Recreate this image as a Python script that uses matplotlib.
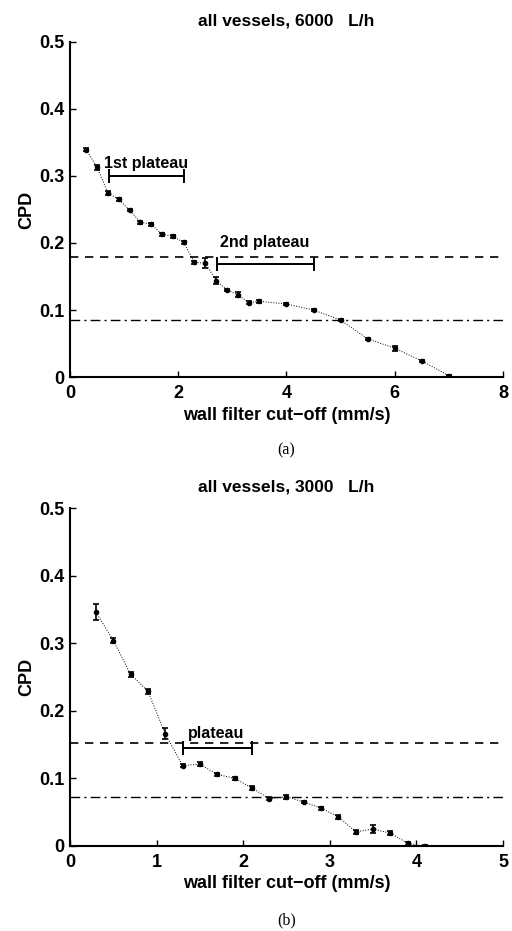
import matplotlib
matplotlib.use("Agg")
from matplotlib import pyplot as plt

plt.rcParams['font.family'] = ['Liberation Sans', 'DejaVu Sans']
plt.rcParams['font.weight'] = 'bold'

# --- dati pannello (a): 6000 L/h ---
cutoff_a = [0.3, 0.5, 0.7, 0.9, 1.1, 1.3, 1.5, 1.7, 1.9, 2.1, 2.3, 2.5, 2.7, 2.9, 3.1, 3.3, 3.5,
            4.0, 4.5, 5.0, 5.5, 6.0, 6.5, 7.0]
cpd_a = [0.339, 0.313, 0.275, 0.265, 0.249, 0.231, 0.228, 0.213, 0.210, 0.201, 0.171, 0.170,
         0.144, 0.130, 0.123, 0.111, 0.113, 0.109, 0.100, 0.085, 0.057, 0.043, 0.024, 0.002]
err_a = [0.002, 0.004, 0.003, 0.002, 0.002, 0.002, 0.002, 0.002, 0.002, 0.002, 0.002, 0.007,
         0.005, 0.002, 0.004, 0.002, 0.002, 0.002, 0.002, 0.002, 0.002, 0.004, 0.002, 0.001]
soglie_a = [0.179, 0.085]
plateau_a = [(0.72, 2.10, 0.300, '1st plateau', 1.41, 0.308),
             (2.71, 4.50, 0.168, '2nd plateau', 3.59, 0.190)]

# --- dati pannello (b): 3000 L/h ---
cutoff_b = [0.3, 0.5, 0.7, 0.9, 1.1, 1.3, 1.5, 1.7, 1.9, 2.1, 2.3, 2.5, 2.7, 2.9, 3.1, 3.3, 3.5,
            3.7, 3.9, 4.1]
cpd_b = [0.346, 0.304, 0.254, 0.229, 0.166, 0.119, 0.121, 0.106, 0.100, 0.086, 0.070, 0.073,
         0.065, 0.056, 0.043, 0.021, 0.025, 0.019, 0.004, 0.000]
err_b = [0.012, 0.003, 0.004, 0.004, 0.008, 0.002, 0.003, 0.002, 0.002, 0.003, 0.002, 0.003,
         0.002, 0.002, 0.003, 0.003, 0.006, 0.003, 0.002, 0.001]
soglie_b = [0.152, 0.073]
plateau_b = [(1.30, 2.10, 0.145, 'plateau', 1.69, 0.156)]


def pannello(ax, x, y, err, soglie, plateaux, xmax, xticks, titolo, lettera):
    # linea punteggiata + punti con barre d'errore
    ax.plot(x, y, linestyle=':', color='black', linewidth=0.7)
    ax.errorbar(x, y, yerr=err, fmt='o', color='black', markersize=3,
                elinewidth=1.2, capsize=2.5, capthick=1.2)
    # soglie orizzontali
    ax.axhline(soglie[0], color='black', linestyle=(0, (5, 4)), linewidth=1.2)
    ax.axhline(soglie[1], color='black', linestyle=(0, (7, 3, 1.5, 3)), linewidth=1.0)
    # intervalli di plateau
    for x0, x1, yp, testo, xt, yt in plateaux:
        ax.errorbar((x0 + x1) / 2, yp, xerr=(x1 - x0) / 2, fmt='none', color='black',
                    elinewidth=1.4, capsize=5, capthick=1.4)
        ax.text(xt, yt, testo, ha='center', va='bottom', fontsize=11.5, fontweight='bold')
    ax.set_xlim(0, xmax)
    ax.set_ylim(0, 0.5)
    ax.set_xticks(xticks)
    ax.set_xticklabels([str(t) for t in xticks])
    ax.set_yticks([0, 0.1, 0.2, 0.3, 0.4, 0.5])
    ax.set_yticklabels(['0', '0.1', '0.2', '0.3', '0.4', '0.5'])
    ax.tick_params(direction='in', length=4, width=1, labelsize=13)
    ax.tick_params(axis='x', pad=6)
    ax.tick_params(axis='y', pad=4)
    for s in ['top', 'right']:
        ax.spines[s].set_visible(False)
    for s in ['left', 'bottom']:
        ax.spines[s].set_linewidth(1.5)
    ax.set_title(titolo, fontsize=12.5, fontweight='bold', pad=12)
    ax.set_xlabel('wall filter cut\u2212off (mm/s)', fontsize=13, fontweight='bold', labelpad=3)
    ax.set_ylabel('CPD', fontsize=13, fontweight='bold', labelpad=3)
    ax.text(0.5, -0.22, lettera, transform=ax.transAxes, ha='center', va='center',
            fontsize=11.5, fontweight='normal', family='Liberation Serif')


fig = plt.figure(figsize=(5.12, 9.31), dpi=100)
ax1 = fig.add_axes([0.1367, 0.595, 0.8457, 0.360])
ax2 = fig.add_axes([0.1367, 0.0913, 0.8457, 0.363])

pannello(ax1, cutoff_a, cpd_a, err_a, soglie_a, plateau_a, 8, [0, 2, 4, 6, 8],
         'all vessels, 6000   L/h', '(a)')
pannello(ax2, cutoff_b, cpd_b, err_b, soglie_b, plateau_b, 5, [0, 1, 2, 3, 4, 5],
         'all vessels, 3000   L/h', '(b)')

fig.savefig('out.png', dpi=100)
